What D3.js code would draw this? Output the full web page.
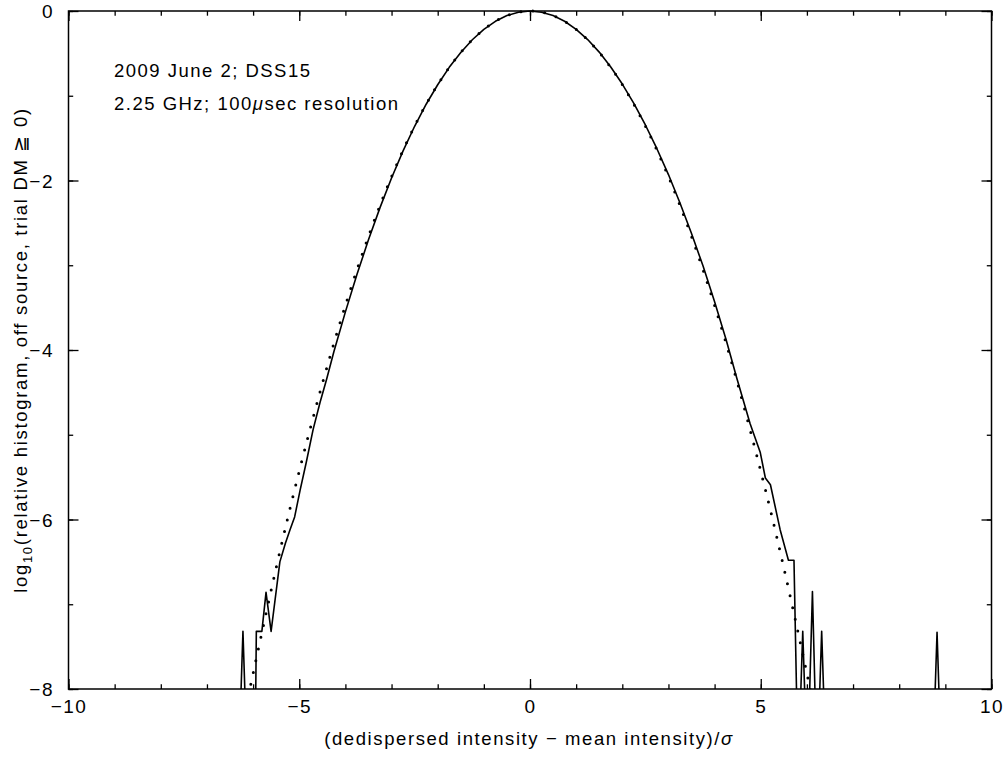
<!DOCTYPE html>
<html lang="en">
<head>
  <meta charset="UTF-8" />
  <title>Off-source histogram, trial DM</title>
  <script src="https://d3js.org/d3.v7.min.js"></script>
  <style>
    body { margin: 0; background: #fff; }
    svg { display: block; }
    text { font-family: "Liberation Sans", Arial, sans-serif; fill: #000; }
  </style>
</head>
<body>
  <svg width="1008" height="762"></svg>
  <script>
    // measured histogram (solid); null = empty bin
    const histX = [-6.50, -6.32, -6.22, -6.12, -5.96, -5.93, -5.81, -5.72, -5.61, -5.42,
      -5.30, -5.20, -5.10, -4.98, -4.85, -4.70, -4.55, -4.41, -4.25, -4.00,
      -3.75, -3.50, -3.25, -3.00, -2.75, -2.50, -2.25, -2.00, -1.75, -1.50,
      -1.25, -1.00, -0.75, -0.50, -0.25, 0.00, 0.25, 0.50, 0.75, 1.00,
      1.25, 1.50, 1.75, 2.00, 2.25, 2.50, 2.75, 3.00, 3.25, 3.50,
      3.75, 4.00, 4.25, 4.48, 4.77, 4.99, 5.10, 5.21, 5.42, 5.60,
      5.72, 5.81, 5.91, 6.01, 6.12, 6.22, 6.32, 6.42, 8.72, 8.82,
      8.92, 9.20];
    const histY = [null, null, -7.32, null, null, -7.32, -7.32, -6.86, -7.32, -6.50,
      -6.28, -6.12, -5.97, -5.65, -5.33, -4.94, -4.62, -4.35, -4.02, -3.55,
      -3.11, -2.70, -2.32, -1.97, -1.65, -1.36, -1.10, -0.87, -0.665, -0.489,
      -0.339, -0.217, -0.122, -0.054, -0.014, 0.00, -0.014, -0.054, -0.121, -0.216,
      -0.337, -0.485, -0.66, -0.862, -1.09, -1.345, -1.625, -1.93, -2.265, -2.625,
      -3.01, -3.43, -3.88, -4.33, -4.87, -5.21, -5.51, -5.59, -6.12, -6.48,
      -6.48, null, -7.32, null, -6.85, null, -7.32, null, null, -7.33,
      null, null];

    // reference gaussian (dotted)
    const gaussX = [-6.1, -6.0, -5.5, -5.0, -4.5, -4.0, -3.5, -3.0, -2.5, -2.0, -1.5, -1.0, -0.5,
      0, 0.5, 1.0, 1.5, 2.0, 2.5, 3.0, 3.5, 4.0, 4.5, 5.0, 5.5, 6.0, 6.1];
    const gaussY = [-8.08, -7.817, -6.569, -5.429, -4.397, -3.474, -2.660, -1.954, -1.357, -0.869, -0.489, -0.217, -0.054,
      0, -0.054, -0.217, -0.489, -0.869, -1.357, -1.954, -2.660, -3.474, -4.397, -5.429, -6.569, -7.817, -8.08];

    const xMajor = [-10, -5, 0, 5, 10];
    const xMinor = d3.range(-10, 11, 1);
    const yMajor = [0, -2, -4, -6, -8];
    const yMinor = d3.range(-8, 1, 1);

    const svg = d3.select("svg");
    const padL = 68.5, padR = 991.5, padT = 11, padB = 689;
    const x = d3.scaleLinear().domain([-10, 10]).range([padL, padR]);
    const y = d3.scaleLinear().domain([-8, 0]).range([padB, padT]);
    const floorVal = -9;
    const minus = s => String(s).replace("-", "\u2212");

    svg.append("defs").append("clipPath").attr("id", "plotclip")
      .append("rect").attr("x", padL).attr("y", 0)
      .attr("width", padR - padL).attr("height", padB);

    // curves
    const plot = svg.append("g").attr("clip-path", "url(#plotclip)");

    const gaussLine = d3.line().x((d, i) => x(gaussX[i])).y(d => y(d)).curve(d3.curveNatural);
    plot.append("path")
      .attr("d", gaussLine(gaussY))
      .attr("fill", "none")
      .attr("stroke", "#000")
      .attr("stroke-width", 3)
      .attr("stroke-linecap", "round")
      .attr("stroke-dasharray", "0 12");

    const histLine = d3.line().x((d, i) => x(histX[i])).y(d => y(d === null ? floorVal : d));
    plot.append("path")
      .attr("d", histLine(histY))
      .attr("fill", "none")
      .attr("stroke", "#000")
      .attr("stroke-width", 1.6)
      .attr("stroke-linejoin", "round");

    // axes: minor + major ticks on all four sides, pointing inward
    function styleAxis(g) {
      g.select(".domain").remove();
      g.selectAll(".tick line").attr("stroke", "#000").attr("stroke-width", 1.3);
      g.selectAll(".tick text").attr("font-size", 19).attr("letter-spacing", "1.5px")
        .attr("font-family", "Liberation Sans, Arial, sans-serif");
    }
    const noLabel = () => "";

    svg.append("g").attr("transform", `translate(0,${padB})`)
      .call(d3.axisBottom(x).tickValues(xMinor).tickSize(-4.7).tickFormat(noLabel)).call(styleAxis);
    svg.append("g").attr("transform", `translate(0,${padB})`)
      .call(d3.axisBottom(x).tickValues(xMajor).tickSize(-10).tickPadding(11).tickFormat(minus)).call(styleAxis);
    svg.append("g").attr("transform", `translate(0,${padT})`)
      .call(d3.axisTop(x).tickValues(xMinor).tickSize(-4.7).tickFormat(noLabel)).call(styleAxis);
    svg.append("g").attr("transform", `translate(0,${padT})`)
      .call(d3.axisTop(x).tickValues(xMajor).tickSize(-10).tickFormat(noLabel)).call(styleAxis);

    svg.append("g").attr("transform", `translate(${padL},0)`)
      .call(d3.axisLeft(y).tickValues(yMinor).tickSize(-4.7).tickFormat(noLabel)).call(styleAxis);
    svg.append("g").attr("transform", `translate(${padL},0)`)
      .call(d3.axisLeft(y).tickValues(yMajor).tickSize(-10).tickPadding(14.5).tickFormat(minus)).call(styleAxis)
      .selectAll(".tick text").attr("dy", "0.36em");
    svg.append("g").attr("transform", `translate(${padR},0)`)
      .call(d3.axisRight(y).tickValues(yMinor).tickSize(-4.7).tickFormat(noLabel)).call(styleAxis);
    svg.append("g").attr("transform", `translate(${padR},0)`)
      .call(d3.axisRight(y).tickValues(yMajor).tickSize(-10).tickFormat(noLabel)).call(styleAxis);

    svg.append("rect")
      .attr("x", padL).attr("y", padT)
      .attr("width", padR - padL).attr("height", padB - padT)
      .attr("fill", "none").attr("stroke", "#000").attr("stroke-width", 1.5);

    // stretch a text's letter spacing so it spans the given width
    function fit(sel, width) {
      const node = sel.node();
      const n = node.textContent.length;
      const w = node.getComputedTextLength();
      sel.attr("letter-spacing", ((width - w) / Math.max(1, n - 1)) + "px");
    }

    // annotations
    const note1 = svg.append("text").attr("x", 114).attr("y", 77).attr("font-size", 18.5)
      .text("2009 June 2; DSS15");
    fit(note1, 196);
    const note2 = svg.append("text").attr("x", 114).attr("y", 110).attr("font-size", 18.5);
    note2.append("tspan").text("2.25 GHz; 100");
    note2.append("tspan").attr("font-style", "italic").text("\u03bc");
    note2.append("tspan").text("sec resolution");
    fit(note2, 284);

    // x title
    const xt = svg.append("text").attr("x", 529).attr("y", 745).attr("text-anchor", "middle").attr("font-size", 18.5);
    xt.append("tspan").text("(dedispersed intensity \u2212 mean intensity)/");
    xt.append("tspan").attr("font-style", "italic").text("\u03c3");
    fit(xt, 408);

    // y title
    const yt = svg.append("text").attr("transform", "translate(27,350) rotate(-90)")
      .attr("text-anchor", "middle").attr("font-size", 18.5);
    yt.append("tspan").text("log");
    yt.append("tspan").attr("font-size", 13).attr("dy", 5).text("10");
    yt.append("tspan").attr("dy", -5).text("(relative histogram, off source, trial DM \u2267 0)");
    fit(yt, 484);
  </script>
</body>
</html>
